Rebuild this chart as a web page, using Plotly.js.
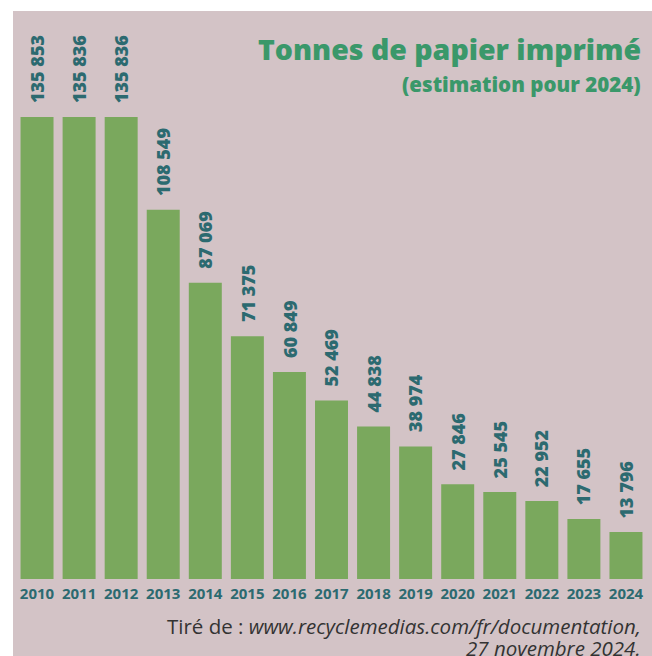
<!DOCTYPE html>
<html>
<head>
<meta charset="utf-8">
<script src="https://cdn.plot.ly/plotly-3.0.1.min.js"></script>
<style>
  html, body { margin: 0; padding: 0; background: #ffffff; width: 652px; height: 656px; overflow: hidden; }
  #chart { position: absolute; left: 13px; top: 11px; width: 639px; height: 645px; }
</style>
</head>
<body>
<div id="chart"></div>
<script>
const years = ['2010','2011','2012','2013','2014','2015','2016','2017','2018','2019','2020','2021','2022','2023','2024'];
const tonnes = [135853, 135836, 135836, 108549, 87069, 71375, 60849, 52469, 44838, 38974, 27846, 25545, 22952, 17655, 13796];
const titleText = 'Tonnes de papier imprimé';
const subtitleText = '(estimation pour 2024)';
const sourceLine1 = '<span style="font-weight:500">Tiré de :</span> <i>www.recyclemedias.com/fr/documentation,</i>';
const sourceLine2 = '<i>27 novembre 2024.</i>';

const fmt = v => String(v).replace(/\B(?=(\d{3})+(?!\d))/g, '\u00A0');

const bg = '#d3c3c6';
const barColor = '#7aa85d';
const labelColor = '#2c6a70';
const titleColor = '#3a986a';

const trace = {
  type: 'bar',
  x: years,
  y: tonnes,
  marker: { color: barColor, line: { width: 0 } },
  hoverinfo: 'skip'
};

const annotations = years.map((yr, i) => ({
  x: i, y: tonnes[i], xref: 'x', yref: 'y',
  text: fmt(tonnes[i]),
  textangle: -90,
  showarrow: false,
  xanchor: 'center', yanchor: 'bottom',
  yshift: 12,
  font: { family: 'Open Sans', size: 18, color: labelColor, weight: 800 }
}));

annotations.push(
  { xref: 'paper', yref: 'paper', x: 0.993, y: 0.933, xanchor: 'right', yanchor: 'middle',
    text: titleText, showarrow: false,
    font: { family: 'Open Sans', size: 28.5, color: titleColor, weight: 800 } },
  { xref: 'paper', yref: 'paper', x: 0.993, y: 0.871, xanchor: 'right', yanchor: 'middle',
    text: subtitleText, showarrow: false,
    font: { family: 'Open Sans', size: 20.5, color: titleColor, weight: 800 } },
  { xref: 'paper', yref: 'paper', x: 0.993, y: -0.083, xanchor: 'right', yanchor: 'middle',
    text: sourceLine1, showarrow: false,
    font: { family: 'Open Sans', size: 20.5, color: '#333333' } },
  { xref: 'paper', yref: 'paper', x: 0.993, y: -0.121, xanchor: 'right', yanchor: 'middle',
    text: sourceLine2, showarrow: false,
    font: { family: 'Open Sans', size: 20.5, color: '#333333' } }
);

const layout = {
  width: 639, height: 645,
  margin: { l: 3, r: 5, t: 0, b: 77, pad: 0 },
  paper_bgcolor: bg,
  plot_bgcolor: bg,
  bargap: 0.216,
  showlegend: false,
  xaxis: {
    type: 'category',
    range: [-0.5, years.length - 0.5],
    showgrid: false, zeroline: false, showline: false, ticks: '',
    ticklabelstandoff: 4,
    tickfont: { family: 'Open Sans', size: 15, color: labelColor, weight: 700 },
    fixedrange: true
  },
  yaxis: {
    range: [0, 167000],
    visible: false,
    showgrid: false, zeroline: false,
    fixedrange: true
  },
  annotations: annotations
};

Plotly.newPlot('chart', [trace], layout, { displayModeBar: false, staticPlot: true });
</script>
</body>
</html>
